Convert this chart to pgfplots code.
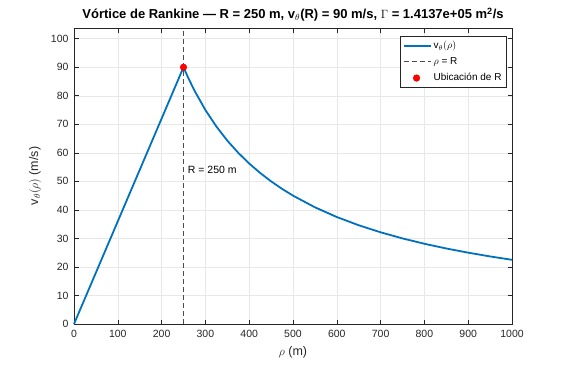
\documentclass[border=0pt]{standalone}
\usepackage{pgfplots}
\pgfplotsset{compat=1.18}
\usepackage{fontspec}
\setmainfont{Liberation Sans}
\definecolor{mblue}{rgb}{0,0.447,0.741}
\definecolor{mgray}{rgb}{0.15,0.15,0.15}
\pgfplotsset{
  longline/.style={legend image code/.code={\draw[##1] (0cm,0cm) -- (0.95cm,0cm);}},
  dotimg/.style={legend image code/.code={\draw[##1] plot coordinates {(0.45cm,0cm)};}},
}
\begin{document}
\begin{tikzpicture}
\begin{axis}[
  scale only axis,
  width=438pt, height=296pt,
  xmin=0, xmax=1000, ymin=0, ymax=103.75,
  xtick={0,100,...,1000}, ytick={0,10,...,100},
  tick align=inside,
  major tick length=4.5pt,
  xtick pos=both, ytick pos=both,
  grid=major,
  grid style={gray!18, line width=0.5pt},
  axis line style={mgray, line width=0.6pt},
  tick style={mgray, line width=0.6pt},
  ticklabel style={font=\fontsize{10.5}{12}\selectfont, color=mgray},
  /pgf/number format/assume math mode=true,
  /pgf/number format/1000 sep={},
  xticklabel style={yshift=-3pt},
  yticklabel style={xshift=-2pt},
  xlabel={$\rho$ (m)},
  ylabel={v$_\theta(\rho)$ (m/s)},
  label style={font=\fontsize{12.5}{14}\selectfont, color=mgray},
  xlabel style={yshift=-2pt},
  ylabel style={yshift=3pt},
  title={\textbf{Vórtice de Rankine — R = 250 m, v$_{\theta}$(R) = 90 m/s, $\Gamma$ = 1.4137e+05 m\textsuperscript{2}/s}},
  title style={font=\fontsize{13}{15}\selectfont, yshift=-3pt},
  legend style={at={(rel axis cs:0.988,0.973)}, anchor=north east, font=\fontsize{10}{12}\selectfont, draw=mgray, line width=0.5pt, inner sep=3pt, row sep=3.5pt},
  legend cell align=left,
  clip=false,
]
\addplot[mblue, line width=1.8pt, longline] coordinates {
(0,0) (250,90) (260,86.538) (275,81.818) (300,75) (325,69.231) (350,64.286) (375,60) (400,56.25) (425,52.941) (450,50) (475,47.368) (500,45) (550,40.909) (600,37.5) (650,34.615) (700,32.143) (750,30) (800,28.125) (850,26.471) (900,25) (950,23.684) (1000,22.5)
};
\addlegendentry{v$_\theta(\rho)$}
\addplot[black!70, dash pattern=on 5pt off 3pt, line width=1pt, longline] coordinates {(250,0) (250,103.75)};
\addlegendentry{$\rho$ = R}
\addplot[only marks, mark=*, mark size=3.3pt, color=red!90!black, fill=red, dotimg] coordinates {(250,90)};
\addlegendentry{Ubicación de R}
\node[anchor=west, font=\fontsize{10.5}{12}\selectfont, color=black] at (axis cs:252,54) {R = 250 m};
\coordinate (bl) at ([shift={(-74pt,-41pt)}]rel axis cs:0,0);
\coordinate (tr) at ([shift={(55pt,28pt)}]rel axis cs:1,1);
\end{axis}
\pgfresetboundingbox
\path (bl) rectangle (tr);
\end{tikzpicture}
\end{document}
